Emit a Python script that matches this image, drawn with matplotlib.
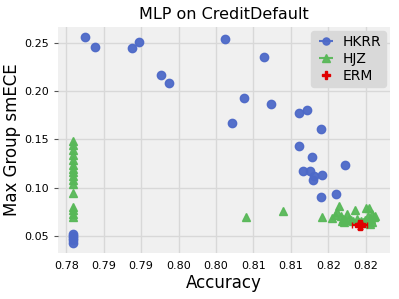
import numpy as np
import matplotlib
matplotlib.use("Agg")
import matplotlib.pyplot as plt
from matplotlib.ticker import MultipleLocator, FormatStrFormatter

# HKRR runs
hkrr_acc = [0.7825, 0.7839, 0.7888, 0.7897, 0.7927, 0.7937, 0.8012, 0.8037, 0.8021,
            0.8064, 0.8074, 0.8111, 0.8121, 0.8140, 0.8111, 0.8128, 0.8172, 0.8116,
            0.8125, 0.8131, 0.8129, 0.8142, 0.8140, 0.8160,
            0.7809, 0.7809, 0.7809, 0.7809, 0.7809]
hkrr_ece = [0.2556, 0.2453, 0.2442, 0.2507, 0.2170, 0.2081, 0.2535, 0.1930, 0.1669,
            0.2353, 0.1871, 0.1772, 0.1809, 0.1607, 0.1428, 0.1318, 0.1236, 0.1177,
            0.1177, 0.1123, 0.1085, 0.1133, 0.0906, 0.0940,
            0.0525, 0.0505, 0.0480, 0.0460, 0.0435]

# HJZ runs
hjz_acc = [0.7809] * 16 + [0.8040, 0.8089, 0.8142,
           0.8155, 0.8159, 0.8161, 0.8164, 0.8167, 0.8169, 0.8172, 0.8175, 0.8177,
           0.8180, 0.8183, 0.8185, 0.8188, 0.8191, 0.8193, 0.8196, 0.8199, 0.8200,
           0.8203, 0.8205, 0.8207, 0.8209, 0.8208, 0.8211, 0.8212, 0.8168, 0.8171,
           0.8198, 0.8206]
hjz_ece = [0.148, 0.144, 0.139, 0.134, 0.129, 0.124, 0.120, 0.116, 0.112, 0.108,
           0.104, 0.095, 0.080, 0.077, 0.073, 0.070,
           0.0700, 0.0758, 0.0700,
           0.0693, 0.0724, 0.0755, 0.0817, 0.0713, 0.0683, 0.0673, 0.0734, 0.0683,
           0.0673, 0.0662, 0.0775, 0.0683, 0.0652, 0.0662, 0.0652, 0.0673, 0.0796,
           0.0713, 0.0796, 0.0683, 0.0652, 0.0734, 0.0703, 0.0713, 0.0662, 0.0652,
           0.0640, 0.0632]

# ERM
erm_acc = [0.8192]
erm_ece = [0.0613]
erm_acc_err = [0.001]
erm_ece_err = [0.004]

fig = plt.figure(figsize=(3.99, 2.99), dpi=100)
ax = fig.add_axes([0.145, 0.154, 0.832, 0.756])
ax.set_facecolor("#f0f0f0")
for s in ax.spines.values():
    s.set_visible(False)
ax.grid(True, color="#d8d8d8", linewidth=1)
ax.set_axisbelow(True)

h1 = ax.errorbar(hkrr_acc, hkrr_ece, xerr=0, fmt="o", color="#4d69c8", ms=6,
                 alpha=0.95, label="HKRR")
h2 = ax.errorbar(hjz_acc, hjz_ece, xerr=0, fmt="^", color="#58b858", ms=6,
                 alpha=0.95, label="HJZ")
ax.errorbar(erm_acc, erm_ece, xerr=erm_acc_err, yerr=erm_ece_err, fmt="none",
            ecolor="#e00000", capsize=2, elinewidth=1.5, zorder=5)
h3, = ax.plot(erm_acc, erm_ece, "P", color="#e00000", ms=6.5, ls="none",
              label="ERM", zorder=6)

ax.xaxis.set_major_locator(MultipleLocator(0.005))
ax.xaxis.set_major_formatter(FormatStrFormatter("%.2f"))
ax.yaxis.set_major_locator(MultipleLocator(0.05))
ax.yaxis.set_major_formatter(FormatStrFormatter("%.2f"))
ax.tick_params(labelsize=8, length=3, color="#555555")
ax.tick_params(axis="x", length=0, pad=6)

ax.set_title("MLP on CreditDefault", fontsize=11.5)
ax.set_xlabel("Accuracy", fontsize=12, labelpad=2)
ax.set_ylabel("Max Group smECE", fontsize=12, labelpad=2)
ax.legend(handles=[h1, h2, h3], loc="upper right", fontsize=10,
          facecolor="#d9d9d9", edgecolor="#d9d9d9", framealpha=1,
          handletextpad=0.4, borderaxespad=0.3, labelspacing=0.2,
          handlelength=1.6, markerscale=0.85, borderpad=0.3)

plt.savefig("out.png", dpi=100)
